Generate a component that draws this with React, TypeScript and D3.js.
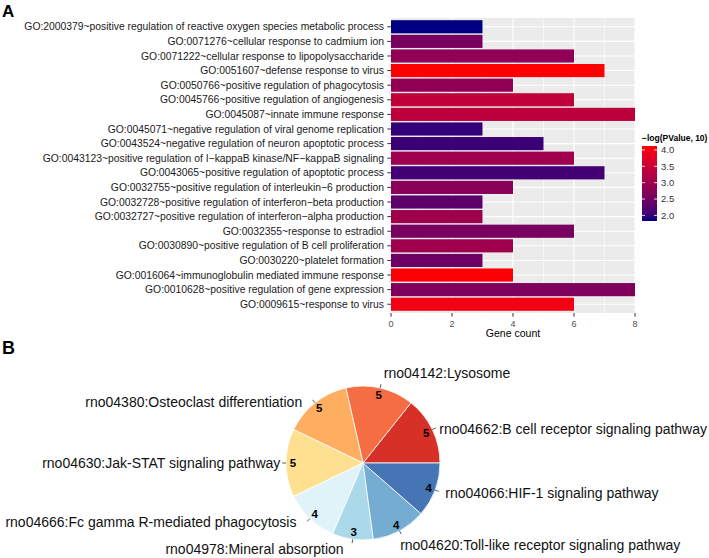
import React from 'react';
import * as d3 from 'd3';

const goTerms = [
  'GO:2000379~positive regulation of reactive oxygen species metabolic process',
  'GO:0071276~cellular response to cadmium ion',
  'GO:0071222~cellular response to lipopolysaccharide',
  'GO:0051607~defense response to virus',
  'GO:0050766~positive regulation of phagocytosis',
  'GO:0045766~positive regulation of angiogenesis',
  'GO:0045087~innate immune response',
  'GO:0045071~negative regulation of viral genome replication',
  'GO:0043524~negative regulation of neuron apoptotic process',
  'GO:0043123~positive regulation of I\u2212kappaB kinase/NF\u2212kappaB signaling',
  'GO:0043065~positive regulation of apoptotic process',
  'GO:0032755~positive regulation of interleukin\u22126 production',
  'GO:0032728~positive regulation of interferon\u2212beta production',
  'GO:0032727~positive regulation of interferon\u2212alpha production',
  'GO:0032355~response to estradiol',
  'GO:0030890~positive regulation of B cell proliferation',
  'GO:0030220~platelet formation',
  'GO:0016064~immunoglobulin mediated immune response',
  'GO:0010628~positive regulation of gene expression',
  'GO:0009615~response to virus',
];
const geneCounts = [3, 3, 6, 7, 4, 6, 8, 3, 5, 6, 7, 4, 3, 3, 6, 4, 3, 4, 8, 6];
const negLogP = [1.83, 2.6, 2.85, 4.12, 2.85, 3.4, 3.35, 2.0, 2.05, 3.0, 2.1, 2.75, 2.3, 3.0, 2.6, 3.0, 2.45, 4.1, 2.65, 3.98];

const xTicks = [0, 2, 4, 6, 8];
const xMinor = [1, 3, 5, 7];
const legendTicks = [2.0, 2.5, 3.0, 3.5, 4.0];

const keggTerms = [
  'rno04662:B cell receptor signaling pathway',
  'rno04142:Lysosome',
  'rno04380:Osteoclast differentiation',
  'rno04630:Jak-STAT signaling pathway',
  'rno04666:Fc gamma R-mediated phagocytosis',
  'rno04978:Mineral absorption',
  'rno04620:Toll-like receptor signaling pathway',
  'rno04066:HIF-1 signaling pathway',
];
const keggCounts = [5, 5, 5, 5, 4, 3, 4, 4];
const keggColors = ['#D73027', '#F46D43', '#FDAE61', '#FEE090', '#E0F3F8', '#ABD9E9', '#74ADD1', '#4575B4'];

// label layout nudges (pixels) for the pie's outer labels
const labelNudgeX = [0, 2, -8, 2, -8, -8, -3, 3];
const labelNudgeY = [3, -7, 5, 0, -2, 2, 8, 0];

const FONT = '"Liberation Sans", Arial, Helvetica, sans-serif';

export default function App() {
  // Panel A
  const x = d3.scaleLinear().domain([0, 8]).range([391, 635]);
  const y = d3.scalePoint<string>().domain(goTerms).range([18, 313]).padding(0.6);
  const step = y.step();
  const bh = step * 0.9;
  const pMin = d3.min(negLogP) as number;
  const pMax = d3.max(negLogP) as number;
  const color = d3.scaleLinear<string>().domain([pMin, pMax]).range(['#000080', '#FF0000']).interpolate(d3.interpolateLab);

  const lgTop = 146, lgH = 75, lgX = 642, lgW = 15;
  const ly = d3.scaleLinear().domain([pMin, pMax]).range([lgTop + lgH, lgTop]);
  const gradStops = d3.range(0, 1.0001, 0.05);

  // Panel B
  const cx = 363, cy = 463, R = 77;
  const total = d3.sum(keggCounts);
  let acc = 0;
  const slices = keggCounts.map((c, i) => {
    const a0 = Math.PI / 2 - (acc / total) * 2 * Math.PI;
    acc += c;
    const a1 = Math.PI / 2 - (acc / total) * 2 * Math.PI;
    return { a0, a1, c, i };
  });
  const arc = d3.arc<any>().innerRadius(0).outerRadius(R);

  return (
    <svg width={709} height={558} style={{ position: 'absolute', left: 0, top: 0, background: '#fff' }} fontFamily={FONT}>
      <defs>
        <linearGradient id="lg" x1="0" y1="1" x2="0" y2="0">
          {gradStops.map((t) => (
            <stop key={t} offset={t} stopColor={color(pMin + t * (pMax - pMin))} />
          ))}
        </linearGradient>
      </defs>
      <text x={2} y={17} fontSize={17} fontWeight="bold">A</text>
      <text x={2} y={354} fontSize={18} fontWeight="bold">B</text>

      {/* panel */}
      <rect x={x(0)} y={18} width={x(8) - x(0)} height={295} fill="#EBEBEB" />
      {xMinor.map((t) => (
        <line key={'m' + t} x1={x(t)} x2={x(t)} y1={18} y2={313} stroke="#fff" strokeWidth={0.5} />
      ))}
      {xTicks.map((t) => (
        <line key={'M' + t} x1={x(t)} x2={x(t)} y1={18} y2={313} stroke="#fff" strokeWidth={1.1} />
      ))}
      {goTerms.map((g) => (
        <line key={'h' + g} x1={x(0)} x2={x(8)} y1={y(g)} y2={y(g)} stroke="#fff" strokeWidth={1.1} />
      ))}
      {goTerms.map((g, i) => (
        <rect key={'b' + g} x={x(0)} y={(y(g) as number) - bh / 2} width={x(geneCounts[i]) - x(0)} height={bh} fill={color(negLogP[i])} />
      ))}
      {/* y axis */}
      {goTerms.map((g) => (
        <g key={'yl' + g}>
          <line x1={387.3} x2={391} y1={y(g)} y2={y(g)} stroke="#333" strokeWidth={1} />
          <text x={384} y={y(g)} dy="0.35em" textAnchor="end" fontSize={10.35} fill="#1a1a1a">{g}</text>
        </g>
      ))}
      {/* x axis */}
      {xTicks.map((t) => (
        <g key={'xt' + t}>
          <line x1={x(t)} x2={x(t)} y1={313} y2={316.7} stroke="#333" strokeWidth={1} />
          <text x={x(t)} y={326.5} textAnchor="middle" fontSize={9} fill="#4D4D4D">{t}</text>
        </g>
      ))}
      <text x={(x(0) + x(8)) / 2} y={337} textAnchor="middle" fontSize={10.5} fill="#000">Gene count</text>

      {/* legend */}
      <text x={lgX} y={141} fontSize={8.5} fontWeight="bold">{'\u2212log(PValue, 10)'}</text>
      <rect x={lgX} y={lgTop} width={lgW} height={lgH} fill="url(#lg)" />
      {legendTicks.map((t) => (
        <g key={'lt' + t}>
          <line x1={lgX} x2={lgX + 3} y1={ly(t)} y2={ly(t)} stroke="#fff" strokeWidth={0.8} />
          <line x1={lgX + lgW - 3} x2={lgX + lgW} y1={ly(t)} y2={ly(t)} stroke="#fff" strokeWidth={0.8} />
          <text x={lgX + lgW + 4} y={ly(t)} dy="0.35em" fontSize={9.5} fill="#333">{t.toFixed(1)}</text>
        </g>
      ))}

      {/* pie */}
      <g transform={`translate(${cx},${cy})`}>
        {slices.map((s) => (
          <path key={'s' + s.i} d={arc({ startAngle: s.a0, endAngle: s.a1 }) as string} fill={keggColors[s.i]} stroke="#fff" strokeWidth={0.8} />
        ))}
        {slices.map((s) => {
          const m = (s.a0 + s.a1) / 2;
          const sx = Math.sin(m), sy = -Math.cos(m);
          const rn = R * 0.91;
          const rt = R * 1.1;
          const right = sx > 0.001;
          return (
            <g key={'l' + s.i}>
              <text x={rn * sx} y={rn * sy} dy="0.35em" textAnchor="middle" fontSize={11.5} fontWeight="bold">{s.c}</text>
              <line x1={R * sx} y1={R * sy} x2={R * 1.05 * sx} y2={R * 1.05 * sy} stroke="#333" strokeWidth={0.8} />
              <text x={rt * sx + labelNudgeX[s.i]} y={rt * sy + labelNudgeY[s.i]} dy="0.35em" textAnchor={right ? 'start' : 'end'} fontSize={14} fill="#111">{keggTerms[s.i]}</text>
            </g>
          );
        })}
      </g>
    </svg>
  );
}
